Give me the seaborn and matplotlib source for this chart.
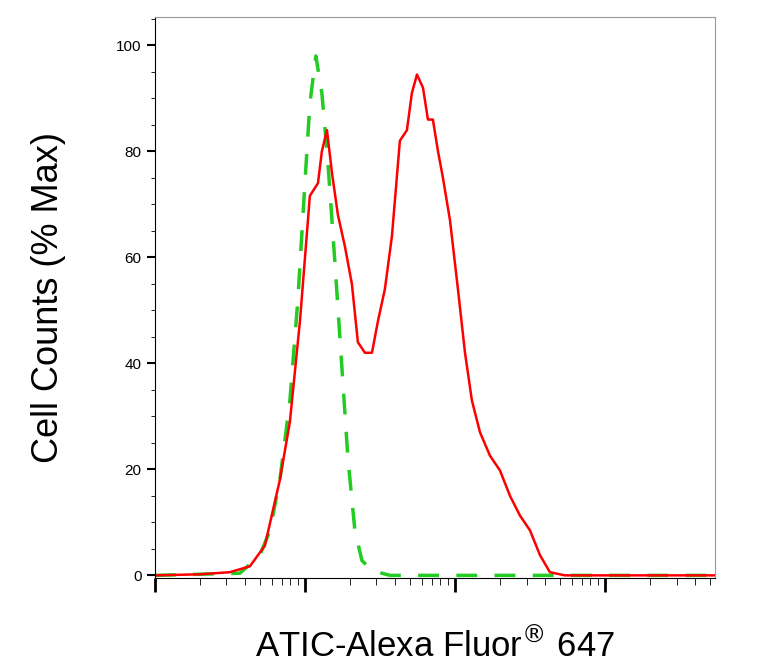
import numpy as np
import pandas as pd
import seaborn as sns
import matplotlib
matplotlib.use("Agg")
import matplotlib.pyplot as plt
from matplotlib.ticker import LogLocator, MultipleLocator, NullFormatter

sns.set_style("ticks")
plt.rcParams['font.family'] = ['Liberation Sans', 'DejaVu Sans']
plt.rcParams['text.color'] = 'black'
plt.rcParams['axes.labelcolor'] = 'black'
plt.rcParams['xtick.color'] = 'black'
plt.rcParams['ytick.color'] = 'black'

# log10 of fluorescence intensity and % max counts
red_log = [0.0, 0.3, 0.5, 0.633, 0.733, 0.833, 0.9, 0.967, 1.033, 1.087, 1.113, 1.147, 1.18, 1.22, 1.267,
           1.313, 1.353, 1.4, 1.447, 1.487, 1.533, 1.58, 1.633, 1.68, 1.713, 1.747, 1.787, 1.82, 1.853, 1.887,
           1.92, 1.967, 2.02, 2.067, 2.113, 2.167, 2.233, 2.3, 2.367, 2.433, 2.5, 2.567, 2.633, 2.733, 3.733]
red_pct = [0, 0.2, 0.6, 1.7, 5.6, 18, 29, 48, 71.6, 74, 80, 84, 76, 68, 62,
           55, 44, 42, 42, 48, 54, 64, 82, 84, 91, 94.5, 92, 86, 86, 80,
           75, 67, 54, 42, 33, 27, 22.6, 19.8, 15, 11.3, 8.5, 3.8, 0.6, 0, 0]
green_log = [0.0, 0.567, 0.7, 0.767, 0.833, 0.9, 0.953, 1.0, 1.033, 1.073, 1.113, 1.153, 1.2, 1.247,
             1.287, 1.333, 1.38, 1.447, 1.567, 3.733]
green_pct = [0, 0.4, 3.8, 8.5, 18, 33, 52, 74, 89, 98, 91, 78, 59, 39,
             22, 8.5, 2.8, 0.9, 0, 0]

df_r = pd.DataFrame({"x": 10 ** np.array(red_log), "y": red_pct})
df_g = pd.DataFrame({"x": 10 ** np.array(green_log), "y": green_pct})

fig = plt.figure(figsize=(7.63, 6.64), dpi=100)
ax = fig.add_axes([0.203, 0.1295, 0.734, 0.8445])
sns.lineplot(data=df_g, x="x", y="y", ax=ax, color="#22cc22", lw=2.5, dashes=False, linestyle=(0, (6, 5)))
sns.lineplot(data=df_r, x="x", y="y", ax=ax, color="#ff0000", lw=1.8)
ax.set_xscale("log")
ax.set_xlim(1, 10 ** 3.733)
ax.set_ylim(-0.5, 105.3)
ax.set_yticks([0, 20, 40, 60, 80, 100])
ax.yaxis.set_minor_locator(MultipleLocator(5))
ax.xaxis.set_major_locator(LogLocator(base=10, numticks=10))
ax.xaxis.set_minor_locator(LogLocator(base=10, subs=np.arange(2, 10), numticks=20))
ax.xaxis.set_major_formatter(NullFormatter())
ax.xaxis.set_minor_formatter(NullFormatter())
ax.tick_params(axis="y", labelsize=11, length=6, width=1.5)
ax.tick_params(axis="y", which="minor", length=3)
ax.tick_params(axis="x", which="major", length=10, width=2)
ax.tick_params(axis="x", which="minor", length=5)
ax.set_xlabel("ATIC-Alexa Fluor$^{®}$ 647", fontsize=25, labelpad=22)
ax.set_ylabel("Cell Counts (% Max)", fontsize=26, labelpad=36)
for s in ax.spines.values():
    s.set_color("#999999")
ax.spines['left'].set_color("black"); ax.spines['bottom'].set_color("black")
fig.savefig("out.png", dpi=100)
